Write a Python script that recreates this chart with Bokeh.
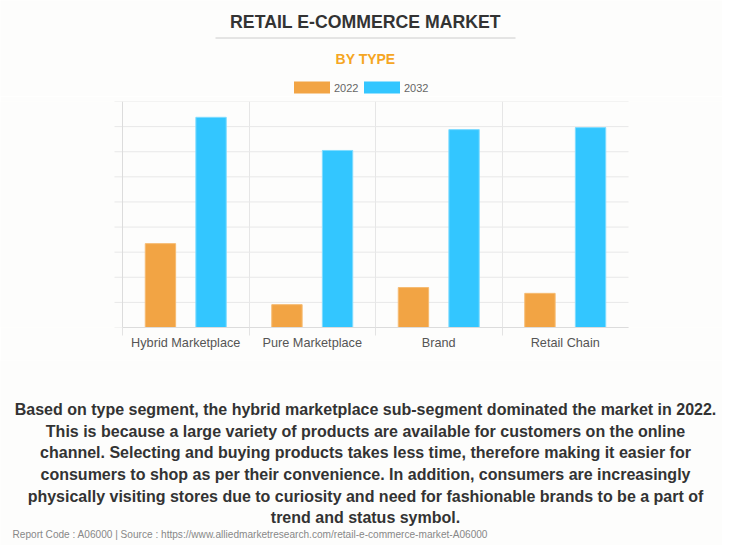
from bokeh.plotting import figure
from bokeh.models import Range1d, FixedTicker, ColumnDataSource
from bokeh.layouts import column
from bokeh.embed import file_html
from bokeh.resources import INLINE
from bokeh.core.properties import value

# ---- data ----
categories = ["Hybrid Marketplace", "Pure Marketplace", "Brand", "Retail Chain"]
series_names = ["2022", "2032"]
values_2022 = [3.34, 0.91, 1.59, 1.36]
values_2032 = [8.37, 7.05, 7.88, 7.96]
y_ticks = [0, 1, 2, 3, 4, 5, 6, 7, 8, 9]

title_text = "RETAIL E-COMMERCE MARKET"
subtitle_text = "BY TYPE"
paragraph_lines = [
    "Based on type segment, the hybrid marketplace sub-segment dominated the market in 2022.",
    "This is because a large variety of products are available for customers on the online",
    "channel. Selecting and buying products takes less time, therefore making it easier for",
    "consumers to shop as per their convenience. In addition, consumers are increasingly",
    "physically visiting stores due to curiosity and need for fashionable brands to be a part of",
    "trend and status symbol.",
]
footer_text = "Report Code : A06000  |  Source : https://www.alliedmarketresearch.com/retail-e-commerce-market-A06000"

ORANGE = "#f2a444"
BLUE = "#33c6ff"
BG = "#fdfdfc"
FONT = "Liberation Sans"
W = 722


def text_panel(height):
    f = figure(width=W, height=height, output_backend="svg", toolbar_location=None,
               x_range=Range1d(0, W), y_range=Range1d(height, 0),
               x_axis_location=None, y_axis_location=None,
               min_border=0, min_border_left=0, min_border_right=0,
               min_border_top=0, min_border_bottom=0)
    f.grid.visible = False
    f.outline_line_color = None
    f.background_fill_color = BG
    f.border_fill_color = BG
    return f


# ---------------- header ----------------
TOP_H = 96
top = text_panel(TOP_H)
top.text(x=[365], y=[21], text=[title_text], text_align="center", text_baseline="middle",
         text_font=value(FONT), text_font_size="17.7px", text_font_style="bold",
         text_color="#333333")
top.segment(x0=[215], y0=[37.5], x1=[515], y1=[37.5], line_color="#cccccc", line_width=1)
top.text(x=[365], y=[58.5], text=[subtitle_text], text_align="center", text_baseline="middle",
         text_font=value(FONT), text_font_size="14px", text_font_style="bold",
         text_color="#f5a623")
leg_x = [293.5, 363.5]
top.quad(left=leg_x, right=[x + 36 for x in leg_x], top=[81, 81], bottom=[93, 93],
         fill_color=[ORANGE, BLUE], line_color=None)
top.text(x=[x + 40 for x in leg_x], y=[87, 87], text=series_names,
         text_align="left", text_baseline="middle",
         text_font=value(FONT), text_font_size="11px", text_color="#666666")

# ---------------- chart ----------------
n = len(categories)
PLOT_L, PLOT_R = 122, 628          # plot area, page pixels
PX = (PLOT_R - PLOT_L) / n         # pixels per category
centers = [i + 0.5 for i in range(n)]
src = ColumnDataSource(dict(
    x1=[c - 0.2 for c in centers], x2=[c + 0.2 for c in centers],
    v1=values_2022, v2=values_2032,
))

CH = 264
p = figure(width=W, height=CH, output_backend="svg", toolbar_location=None,
           x_range=Range1d(-PLOT_L / PX, n + (W - PLOT_R) / PX), y_range=Range1d(0, 9),
           y_axis_location=None,
           min_border_left=0, min_border_right=0,
           min_border_top=5, min_border_bottom=CH - 5 - 226)
p.outline_line_color = None
p.background_fill_color = BG
p.border_fill_color = BG

# horizontal grid lines (with small stubs left of the axis)
stub = 8 / PX
p.segment(x0=[-stub] * len(y_ticks), x1=[n] * len(y_ticks), y0=y_ticks, y1=y_ticks,
          line_color="#e8e8e8", line_width=1)
p.segment(x0=[0], x1=[0], y0=[0], y1=[y_ticks[-1]], line_color="#dcdcdc", line_width=1)

p.vbar(x="x1", top="v1", width=0.24, bottom=0, source=src,
       fill_color=ORANGE, line_color="#f6bb72", line_width=1)
p.vbar(x="x2", top="v2", width=0.24, bottom=0, source=src,
       fill_color=BLUE, line_color="#7fdcff", line_width=1)

xa = p.xaxis[0]
xa.bounds = (0, n)
xa.ticker = FixedTicker(ticks=centers, minor_ticks=list(range(n)))
xa.major_label_overrides = {c: cat for c, cat in zip(centers, categories)}
xa.major_tick_out = 0
xa.major_tick_in = 0
xa.minor_tick_out = 8
xa.minor_tick_in = 0
xa.minor_tick_line_color = "#e3e3e3"
xa.axis_line_color = "#dcdcdc"
xa.major_label_standoff = 0
xa.major_label_text_font = FONT
xa.major_label_text_font_size = "12.7px"
xa.major_label_text_color = "#555555"

p.xgrid.ticker = FixedTicker(ticks=list(range(1, n)))
p.xgrid.grid_line_color = "#e6e6e6"
p.ygrid.visible = False

# ---------------- paragraph + footer ----------------
BOT_H = 545 - TOP_H - CH
OFF = TOP_H + CH
bot = text_panel(BOT_H)
line_y = [409 - OFF, 431 - OFF, 452 - OFF, 474 - OFF, 496 - OFF, 517 - OFF]
bot.text(x=[365] * len(paragraph_lines), y=line_y, text=paragraph_lines,
         text_align="center", text_baseline="middle",
         text_font=value(FONT), text_font_size="16px", text_font_style="bold",
         text_color="#333333")
bot.text(x=[12], y=[534 - OFF], text=[footer_text], text_align="left", text_baseline="middle",
         text_font=value(FONT), text_font_size="10.1px", text_color="#888888")

layout = column(top, p, bot, spacing=0)
open("out.html", "w").write(file_html(layout, INLINE))
